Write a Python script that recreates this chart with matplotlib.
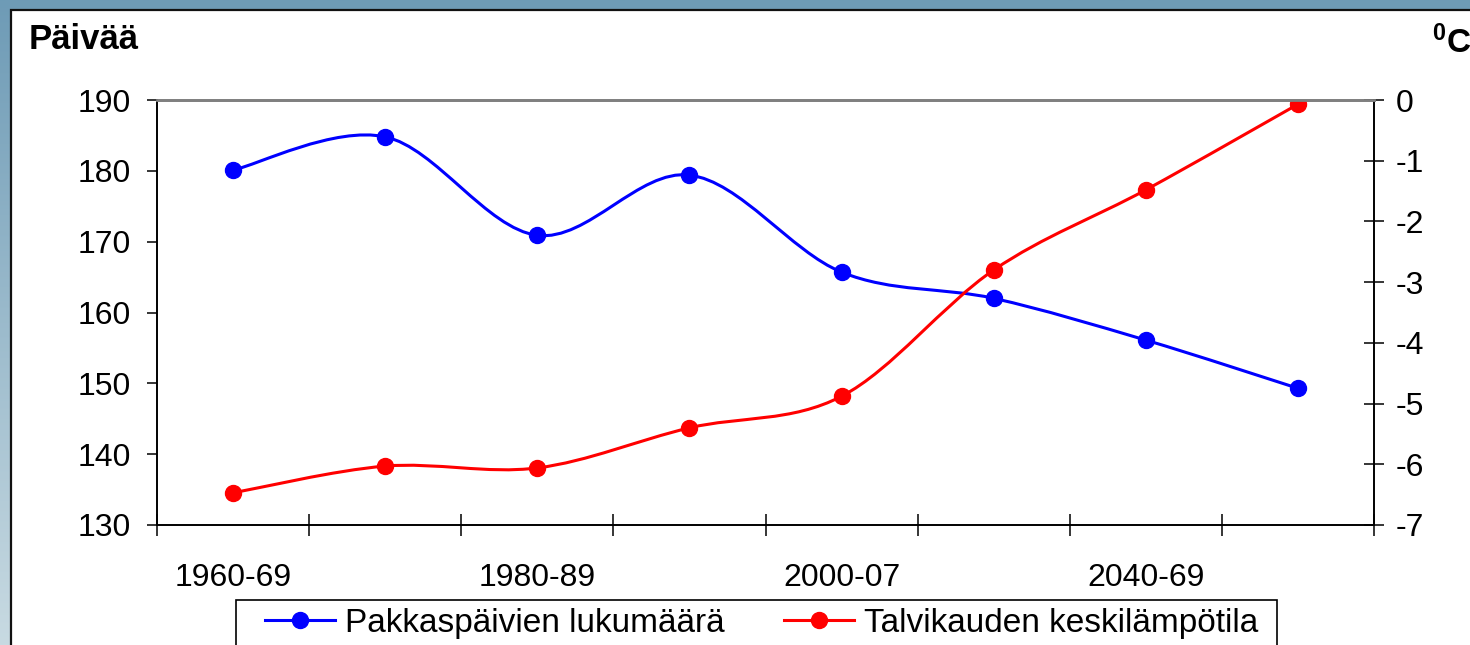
import numpy as np
import matplotlib
matplotlib.use("Agg")
import matplotlib.pyplot as plt
from matplotlib.path import Path
from matplotlib.patches import PathPatch, Rectangle
from matplotlib.lines import Line2D
from matplotlib.colors import LinearSegmentedColormap

plt.rcParams['font.family'] = ['Liberation Sans', 'DejaVu Sans']
plt.rcParams['axes.unicode_minus'] = False
plt.rcParams['mathtext.fontset'] = 'custom'
plt.rcParams['mathtext.rm'] = 'Liberation Sans'
plt.rcParams['mathtext.bf'] = 'Liberation Sans:bold'

# data
periods = ['1960-69', '1970-79', '1980-89', '1990-99', '2000-07', '2010-39', '2040-69', '2070-99']
frost_days = [180.1, 184.8, 170.9, 179.4, 165.7, 162.0, 156.1, 149.3]
winter_temp = [-6.47, -6.03, -6.06, -5.40, -4.88, -2.80, -1.48, -0.07]

FS = 23
W, H = 1470, 645


def smooth_path(xs, ys):
    # Excel-like smoothed line: cubic bezier segments through the points
    p = np.column_stack([xs, ys]).astype(float)
    n = len(p)
    verts = [p[0]]
    codes = [Path.MOVETO]
    for i in range(n - 1):
        p0 = p[i - 1] if i > 0 else p[i]
        p3 = p[i + 2] if i + 2 < n else p[i + 1]
        c1 = p[i] + (p[i + 1] - p0) / 6.0
        c2 = p[i + 1] - (p3 - p[i]) / 6.0
        verts += [c1, c2, p[i + 1]]
        codes += [Path.CURVE4] * 3
    return Path(verts, codes)


fig = plt.figure(figsize=(14.7, 6.45), dpi=100)

# background with gradient border and white panel
bg = fig.add_axes([0, 0, 1, 1], zorder=-10)
cmap = LinearSegmentedColormap.from_list('bg', ['#c8dae2', '#6e9bb6'])
bg.imshow(np.linspace(0, 1, 256).reshape(-1, 1), cmap=cmap, aspect='auto',
          extent=[0, 1, 0, 1], origin='lower')
bg.add_patch(Rectangle((11 / W, -0.1), 1.2, (H - 10) / H + 0.1, facecolor='white',
                       edgecolor='#111111', linewidth=1.6))
# legend frame (bottom runs off the picture)
bg.add_patch(Rectangle((236 / W, -0.1), 1041 / W, 0.1 + 1 - 600 / H, facecolor='white',
                       edgecolor='black', linewidth=1.2))
bg.set_xlim(0, 1)
bg.set_ylim(0, 1)
bg.axis('off')

ax = fig.add_axes([157 / W, 1 - 525 / H, 1217 / W, 425 / H])
ax.set_facecolor('none')
ax2 = ax.twinx()

x = np.arange(len(periods))

ax.add_patch(PathPatch(smooth_path(x, frost_days), fill=False, edgecolor='#0000ff',
                       linewidth=2.2, capstyle='round', joinstyle='round'))
ax.plot(x, frost_days, 'o', color='#0000ff', markersize=11.5)

ax2.add_patch(PathPatch(smooth_path(x, winter_temp), fill=False, edgecolor='#ff0000',
                        linewidth=2.2, capstyle='round', joinstyle='round'))
ax2.plot(x, winter_temp, 'o', color='#ff0000', markersize=11.5)

ax.set_xlim(-0.5, len(periods) - 0.5)
ax.set_ylim(130, 190)
ax2.set_ylim(-7, 0)

ax.set_yticks(np.arange(130, 191, 10))
ax2.set_yticks(np.arange(-7, 1, 1))

ax.set_xticks(np.arange(-0.5, len(periods), 1))
ax.set_xticklabels([])
ax.set_xticks(x[::2], minor=True)
ax.set_xticklabels(periods[::2], minor=True)

ax.tick_params(axis='x', which='major', direction='inout', length=16, width=1.1, color='black')
ax.tick_params(axis='x', which='minor', length=0, pad=27, labelsize=FS)
ax.tick_params(axis='y', direction='out', length=7, width=1.1, pad=12, labelsize=FS)
ax2.tick_params(axis='y', direction='inout', length=15, width=1.1, pad=8, labelsize=FS)

for a in (ax, ax2):
    for side in ('left', 'right', 'bottom'):
        a.spines[side].set_color('black')
        a.spines[side].set_linewidth(1.2)
    a.spines['top'].set_color('#808080')
    a.spines['top'].set_linewidth(2)

fig.text(29 / W, 1 - 49 / H, 'Päivää', fontsize=25, fontweight='bold', va='baseline')
fig.text(1432 / W, 1 - 53 / H, r'$\mathbf{^{0}C}$', fontsize=24, va='baseline')

handles = [
    Line2D([], [], color='#0000ff', marker='o', markersize=11.5, linewidth=2.2),
    Line2D([], [], color='#ff0000', marker='o', markersize=11.5, linewidth=2.2),
]
leg = fig.legend(handles, ['Pakkaspäivien lukumäärä', 'Talvikauden keskilämpötila'],
                 loc='upper left', bbox_to_anchor=(265 / W, 0, (1258 - 265) / W, 1 - 608 / H),
                 mode='expand', ncol=2, fontsize=24, frameon=False,
                 handlelength=2.1, handletextpad=0.3,
                 borderpad=0, borderaxespad=0, numpoints=1)

fig.savefig('out.png', dpi=100)
